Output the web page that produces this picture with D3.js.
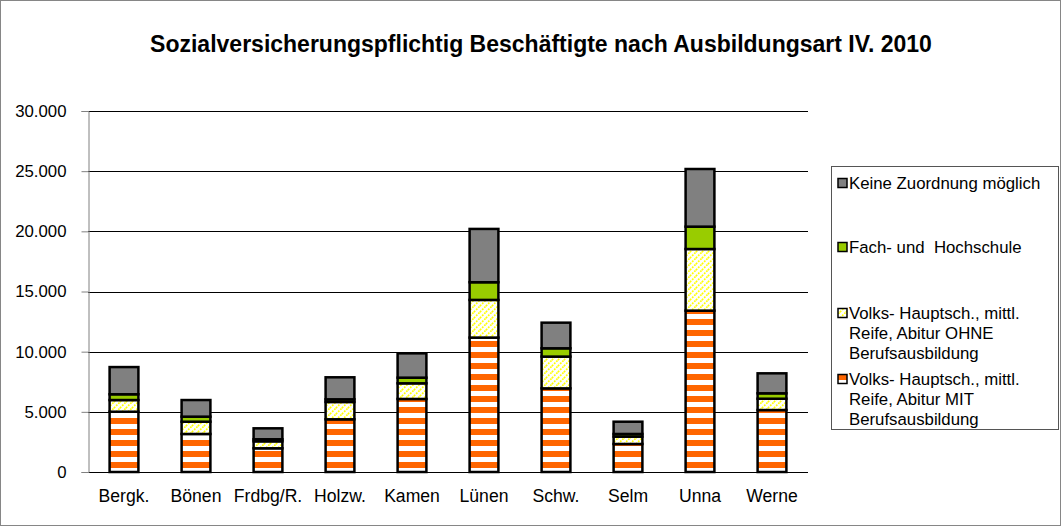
<!DOCTYPE html>
<html>
<head>
<meta charset="utf-8">
<script src="https://cdn.jsdelivr.net/npm/d3@7"></script>
<style>
  body { margin: 0; background: #fff; }
  text { font-family: "Liberation Sans", Arial, sans-serif; fill: #000; }
</style>
</head>
<body>
<script>
var w = 1061,
	h = 526;

// data
var orte = ['Bergk.', 'Bönen', 'Frdbg/R.', 'Holzw.', 'Kamen', 'Lünen', 'Schw.', 'Selm', 'Unna', 'Werne'];
var mitAusb = [5010, 3160, 1970, 4380, 6070, 11170, 6950, 2330, 13410, 5150];
var ohneAusb = [970, 1020, 580, 1440, 1300, 3130, 2640, 610, 5120, 940];
var fachHoch = [480, 420, 170, 220, 470, 1470, 690, 220, 1860, 450];
var keineZuord = [2260, 1380, 910, 1830, 2020, 4430, 2130, 1020, 4790, 1660];
var yTicks = [0, 5000, 10000, 15000, 20000, 25000, 30000];

var keys = ['mit', 'ohne', 'fach', 'keine'];
var legendText = {
	keine: ['Keine Zuordnung möglich'],
	fach: ['Fach- und  Hochschule'],
	ohne: ['Volks- Hauptsch., mittl.', 'Reife, Abitur OHNE', 'Berufsausbildung'],
	mit: ['Volks- Hauptsch., mittl.', 'Reife, Abitur MIT', 'Berufsausbildung']
};
var fills = { mit: 'url(#stripes)', ohne: 'url(#hatch)', fach: '#99cc00', keine: '#808080' };

var rows = orte.map(function(o, i) {
	return { ort: o, mit: mitAusb[i], ohne: ohneAusb[i], fach: fachHoch[i], keine: keineZuord[i] };
});

var de = d3.formatLocale({ decimal: ',', thousands: '.', grouping: [3], currency: ['', ' €'] });
var fmt = de.format(',');

var svg = d3.select('body').append('svg')
	.attr('width', w)
	.attr('height', h);

// patterns
var defs = svg.append('defs');
var st = defs.append('pattern').attr('id', 'stripes')
	.attr('patternUnits', 'userSpaceOnUse')
	.attr('width', 8).attr('height', 11);
st.append('rect').attr('width', 8).attr('height', 11).attr('fill', '#fff');
st.append('rect').attr('y', 0).attr('width', 8).attr('height', 6).attr('fill', '#ff6600');

var ha = defs.append('pattern').attr('id', 'hatch')
	.attr('patternUnits', 'userSpaceOnUse')
	.attr('width', 6).attr('height', 6);
ha.append('rect').attr('width', 6).attr('height', 6).attr('fill', '#fff');
ha.append('path').attr('d', 'M0,6L6,0M-1,1L1,-1M5,7L7,5')
	.attr('stroke', '#ffff00').attr('stroke-width', 1.6)
	.attr('stroke-dasharray', '1.8,1.2');

svg.append('rect')
	.attr('x', 0.5).attr('y', 0.5)
	.attr('width', w - 1).attr('height', h - 1)
	.attr('fill', '#fff').attr('stroke', '#868686');

svg.append('text')
	.attr('x', 541).attr('y', 52)
	.attr('text-anchor', 'middle')
	.style('font-size', '23px').style('font-weight', 'bold')
	.text('Sozialversicherungspflichtig Beschäftigte nach Ausbildungsart IV. 2010');

var x = d3.scaleBand().domain(orte).range([88, 808]).paddingInner(0.6).paddingOuter(0.3);
var y = d3.scaleLinear().domain([0, 30000]).range([472, 111]);

// grid
svg.append('g').selectAll('line')
	.data(yTicks)
	.enter().append('line')
	.attr('x1', 88).attr('x2', 808)
	.attr('y1', function(d) { return Math.round(y(d)) + 0.5; })
	.attr('y2', function(d) { return Math.round(y(d)) + 0.5; })
	.attr('stroke', '#000');

var yAxis = svg.append('g')
	.attr('transform', 'translate(88.5,0)')
	.call(d3.axisLeft(y).tickValues(yTicks).tickSize(7).tickPadding(15).tickFormat(fmt));
yAxis.selectAll('path,line').attr('stroke', '#808080');
yAxis.selectAll('text').style('font-size', '16.8px').attr('fill', '#000');

var xAxis = svg.append('g')
	.attr('transform', 'translate(0,472.5)')
	.call(d3.axisBottom(x).tickSize(0).tickPadding(17));
xAxis.select('path').remove();
xAxis.selectAll('text').style('font-size', '17.6px').attr('fill', '#000');

// bars
var series = d3.stack().keys(keys)(rows);
svg.append('g').selectAll('g')
	.data(series)
	.enter().append('g')
	.attr('fill', function(s) { return fills[s.key]; })
	.selectAll('rect')
	.data(function(s) { return s; })
	.enter().append('rect')
	.attr('x', function(d) { return x(d.data.ort); })
	.attr('width', x.bandwidth())
	.attr('y', function(d) { return y(d[1]); })
	.attr('height', function(d) { return y(d[0]) - y(d[1]); })
	.attr('stroke', '#000')
	.attr('stroke-width', 2.5);

// legend
var lg = svg.append('g');
lg.append('rect')
	.attr('x', 831.5).attr('y', 166.5)
	.attr('width', 227).attr('height', 263)
	.attr('fill', '#fff').attr('stroke', '#555');

var legY = { keine: 183, fach: 247, ohne: 313, mit: 379 };
keys.slice().reverse().forEach(function(k) {
	lg.append('rect')
		.attr('x', 838).attr('y', legY[k] - 4.5)
		.attr('width', 9).attr('height', 9)
		.attr('fill', fills[k])
		.attr('stroke', '#000').attr('stroke-width', 1.5);
	legendText[k].forEach(function(t, i) {
		lg.append('text')
			.attr('x', 849).attr('y', legY[k] + i * 20)
			.attr('dy', '0.35em')
			.style('font-size', '16.8px')
			.style('white-space', 'pre')
			.text(t);
	});
});
</script>
</body>
</html>
